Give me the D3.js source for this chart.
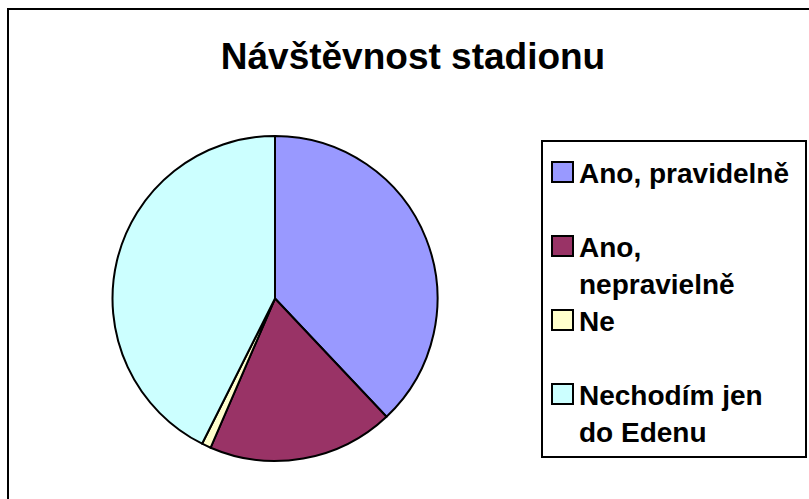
<!DOCTYPE html>
<html>
<head>
<meta charset="utf-8">
<script src="https://cdn.jsdelivr.net/npm/d3@7/dist/d3.min.js"></script>
<style>
  html, body { margin: 0; background: #fff; overflow: hidden; }
  svg { display: block; }
  svg text { font-family: "Liberation Sans", Arial, sans-serif; font-weight: bold; fill: #000; }
</style>
</head>
<body>
<div id="chart"></div>
<script>
const title = 'Návštěvnost stadionu';
const categories = ['Ano, pravidelně', 'Ano, nepravielně', 'Ne', 'Nechodím jen do Edenu'];
const values = [41, 20, 1, 46];
const colors = ['#9999ff', '#993366', '#ffffcc', '#ccffff'];

const width = 809, height = 499;

const svg = d3.select('#chart').append('svg')
    .attr('width', width)
    .attr('height', height);

// chart frame: only top and left edges are inside the picture
svg.append('path')
    .attr('d', `M8,${height}V9H${width}`)
    .attr('fill', 'none')
    .attr('stroke', '#000')
    .attr('stroke-width', 2);

svg.append('text')
    .attr('x', 413)
    .attr('y', 69)
    .attr('text-anchor', 'middle')
    .style('font-size', '37px')
    .text(title);

// pie
const cx = 275, cy = 298.5, radius = 162.5;
const pie = d3.pie().sort(null).value(d => d.value);
const arc = d3.arc().innerRadius(0).outerRadius(radius);
const data = categories.map((c, i) => ({ name: c, value: values[i], color: colors[i] }));

const g = svg.append('g').attr('transform', `translate(${cx},${cy})`);
g.selectAll('path')
    .data(pie(data))
    .enter().append('path')
    .attr('d', arc)
    .attr('fill', d => d.data.color)
    .attr('stroke', '#000')
    .attr('stroke-width', 2)
    .attr('stroke-linejoin', 'round');

// legend
svg.append('rect')
    .attr('x', 542).attr('y', 141)
    .attr('width', 264).attr('height', 316)
    .attr('fill', '#fff')
    .attr('stroke', '#000')
    .attr('stroke-width', 2);

const textX = 579, maxW = 222, lineH = 37;
const itemY = d3.scaleLinear().domain([0, categories.length - 1]).range([183, 405]);

const legend = svg.selectAll('.legend')
    .data(data)
    .enter().append('g')
    .attr('class', 'legend')
    .attr('transform', (d, i) => `translate(0,${itemY(i)})`);

legend.append('rect')
    .attr('x', 552).attr('y', -21)
    .attr('width', 21).attr('height', 20)
    .attr('fill', d => d.color)
    .attr('stroke', '#000')
    .attr('stroke-width', 2);

legend.append('text')
    .attr('x', textX)
    .style('font-size', '28px')
    .each(function (d) {
        const t = d3.select(this);
        const words = d.name.split(' ');
        let line = [];
        let tspan = t.append('tspan').attr('x', textX).attr('dy', 0);
        words.forEach(w => {
            line.push(w);
            tspan.text(line.join(' '));
            if (tspan.node().getComputedTextLength() > maxW && line.length > 1) {
                line.pop();
                tspan.text(line.join(' '));
                line = [w];
                tspan = t.append('tspan').attr('x', textX).attr('dy', lineH).text(w);
            }
        });
    });
</script>
</body>
</html>
